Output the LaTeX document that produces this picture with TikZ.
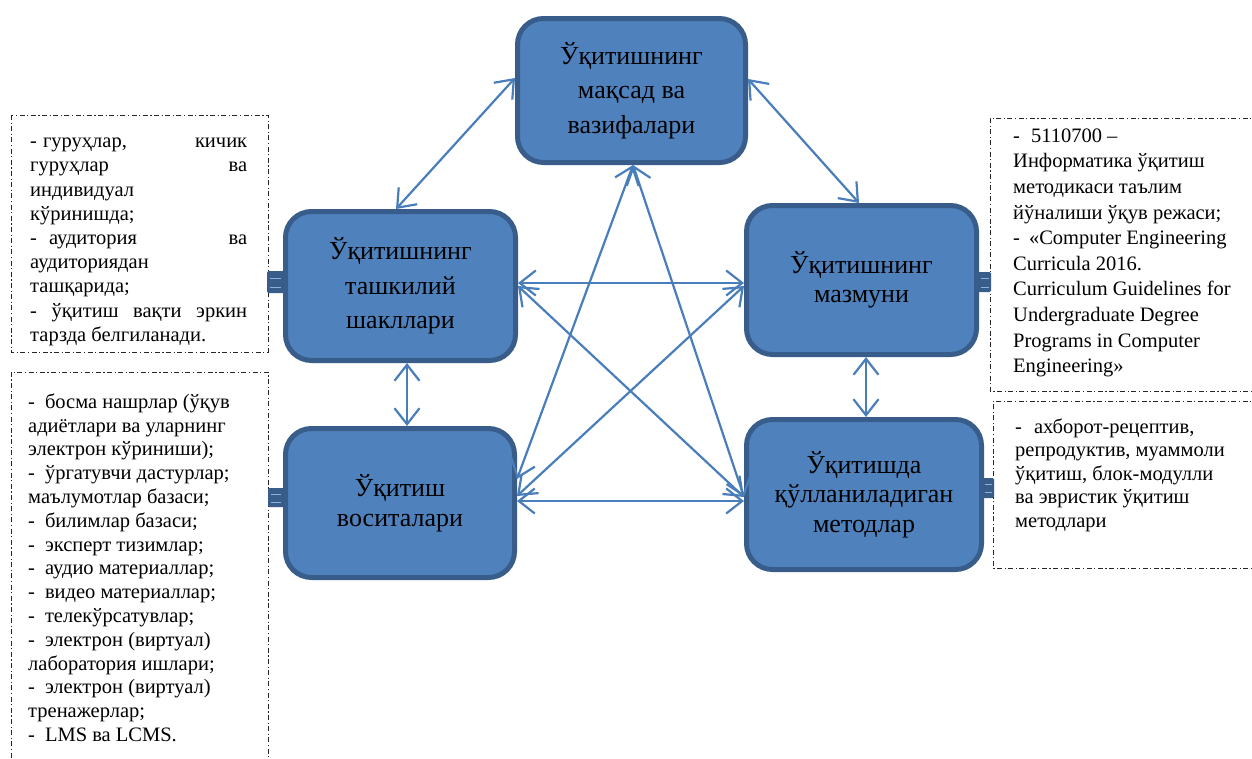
\documentclass[tikz,border=0pt]{standalone}
\usepackage{fontspec}
\setmainfont{Liberation Serif}
\usetikzlibrary{arrows.meta,calc}
\definecolor{boxfill}{HTML}{4F81BD}
\definecolor{boxline}{HTML}{385D8A}
\definecolor{arrowblue}{HTML}{4A7EBB}
\definecolor{tabline}{HTML}{8EB0DA}

\begin{document}
\begin{tikzpicture}[x=1pt,y=-1pt,
  block/.style={draw=boxline, fill=boxfill, line width=5pt, rounded corners=26pt,
    inner sep=0pt, align=center},
  widegap/.style={font=\fontsize{26}{34.5}\selectfont},
  narrowgap/.style={font=\fontsize{26}{29.5}\selectfont},
  link/.style={draw=arrowblue, line width=2.2pt,
    {Straight Barb[length=16pt,width=25pt]}-{Straight Barb[length=16pt,width=25pt]}},
  note/.style={anchor=north west, inner sep=0pt, align=left},
  frame/.style={draw=black!85, line width=0.9pt,
    dash pattern=on 5pt off 2.5pt on 1.2pt off 2.5pt},
  tab/.style={fill=boxline, rounded corners=1.5pt},
  tabmark/.style={draw=tabline, line width=0.8pt},
]
\useasboundingbox (0,0) rectangle (1252,758);
\fill[white] (0,0) rectangle (1252,758);
\clip (0,0) rectangle (1252,758);

% dash-dot frames of the side notes
\draw[frame] (11,115) rectangle (268,352);
\draw[frame] (11,780) -- (11,372) -- (268,372) -- (268,780);
\draw[frame] (1270,118) -- (990,118) -- (990,391) -- (1270,391);
\draw[frame] (1270,401) -- (993,401) -- (993,568) -- (1270,568);

% small tabs on the blocks
\fill[tab] (267,271) rectangle (285,293);
\draw[tabmark] (270,278) -- (281,278) (270,287) -- (281,287);
\fill[tab] (268,488) rectangle (285,507);
\draw[tabmark] (271,494) -- (281,494) (271,502) -- (281,502);
\fill[tab] (977,272) rectangle (991,292);
\draw[tabmark] (981,278) -- (989,278) (981,287) -- (989,287);
\fill[tab] (982,478) rectangle (994,498);
\draw[tabmark] (985,484) -- (992,484) (985,492) -- (992,492);

% main blocks
\node[block, widegap, minimum width=228pt, minimum height=144pt] (goal) at (631.5,90.5)
  {Ўқитишнинг\\мақсад ва\\вазифалари};
\node[block, widegap, minimum width=230pt, minimum height=149pt] (forms) at (400.5,286)
  {Ўқитишнинг\\ташкилий\\шакллари};
\node[block, narrowgap, minimum width=230pt, minimum height=149pt] (content) at (861.5,280)
  {Ўқитишнинг\\мазмуни};
\node[block, narrowgap, minimum width=229pt, minimum height=149pt] (means) at (400,503)
  {Ўқитиш\\воситалари};
\node[block, narrowgap, minimum width=235pt, minimum height=150pt] (methods) at (864,494.5)
  {Ўқитишда\\қўлланиладиган\\методлар};

% connectors
\draw[link] (goal.west |- 0,78) -- (forms.north -| 396,0);
\draw[link] (goal.east |- 0,79) -- (content.north -| 859,0);
\draw[link] (goal.south -| 633,0) -- (means.east |- 0,479);
\draw[link] (goal.south -| 633,0) -- (methods.west |- 0,497);
\draw[link] (forms.east |- 0,283) -- (content.west |- 0,283);
\draw[link] (forms.east |- 0,286) -- (methods.west |- 0,497);
\draw[link] (content.west |- 0,286) -- (means.east |- 0,496);
\draw[link] (means.east |- 0,501) -- (methods.west |- 0,501);
\draw[link] (forms.south -| 407,0) -- (means.north -| 407,0);
\draw[link] (content.south -| 866,0) -- (methods.north -| 866,0);

% side notes
\node[note, font=\fontsize{20.5}{24.2}\selectfont] (formsnote) at (30,130.6) {%
\strut\makebox[217pt]{-\hspace{6pt}гуруҳлар,\hfill кичик}\\
\makebox[217pt]{гуруҳлар\hfill ва}\\
индивидуал\\
кўринишда;\\
\makebox[217pt]{-\hspace{12pt}аудитория\hfill ва}\\
аудиториядан\\
ташқарида;\\
\makebox[217pt][s]{- ўқитиш вақти эркин}\\
тарзда белгиланади.};

\node[note, font=\fontsize{20.5}{23.8}\selectfont] (meansnote) at (28,391.5) {%
\strut-\hspace{10pt}босма нашрлар (ўқув\\
адиётлари ва уларнинг\\
электрон кўриниши);\\
-\hspace{10pt}ўргатувчи дастурлар;\\
маълумотлар базаси;\\
-\hspace{10pt}билимлар базаси;\\
-\hspace{10pt}эксперт тизимлар;\\
-\hspace{10pt}аудио материаллар;\\
-\hspace{10pt}видео материаллар;\\
-\hspace{10pt}телекўрсатувлар;\\
-\hspace{10pt}электрон (виртуал)\\
лаборатория ишлари;\\
-\hspace{10pt}электрон (виртуал)\\
тренажерлар;\\
-\hspace{10pt}LMS ва LCMS.};

\node[note, font=\fontsize{20.5}{25.6}\selectfont] (contentnote) at (1013,124.1) {%
\strut-\hspace{11pt}5110700 –\\
Информатика ўқитиш\\
методикаси таълим\\
йўналиши ўқув режаси;\\
-\hspace{9pt}«Computer Engineering\\
Curricula 2016.\\
Curriculum Guidelines for\\
Undergraduate Degree\\
Programs in Computer\\
Engineering»};

\node[note, font=\fontsize{20.5}{23.5}\selectfont] (methodsnote) at (1015,416.5) {%
\strut-\hspace{12pt}ахборот-рецептив,\\
репродуктив, муаммоли\\
ўқитиш, блок-модулли\\
ва эвристик ўқитиш\\
методлари};
\end{tikzpicture}
\end{document}
